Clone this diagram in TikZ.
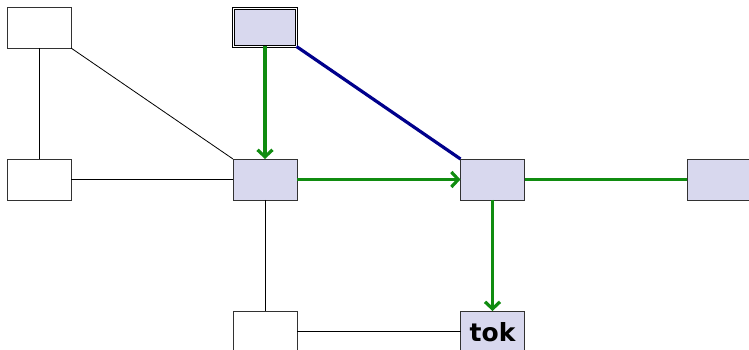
\documentclass[tikz,border=0pt]{standalone}
\usepackage{fontspec}
\newfontfamily\tokfont{DejaVu Sans}
\usetikzlibrary{arrows.meta}
\definecolor{lav}{RGB}{216,216,238}
\definecolor{grn}{RGB}{16,140,16}
\definecolor{nvy}{RGB}{0,0,140}
\definecolor{edge}{RGB}{50,50,50}
\begin{document}
\begin{tikzpicture}[x=1pt,y=1pt,
  box/.style={draw=edge,line width=0.9pt,minimum width=64pt,minimum height=41pt,inner sep=0pt,outer sep=0pt},
  wbox/.style={box,fill=white},
  lbox/.style={box,fill=lav},
  thin/.style={line width=0.8pt,black},
  garrow/.style={line width=3.2pt,grn,-{Straight Barb[length=7pt,width=15pt]}},
  gline/.style={line width=3.2pt,grn},
  bline/.style={line width=3.2pt,nvy}]
\useasboundingbox (0,0) rectangle (749,350);
\node[wbox] (tl) at (39,322.5) {};
\node[lbox,draw=black,line width=0.8pt,double=white,double distance=1.6pt,minimum width=63pt,minimum height=38pt] (top) at (265,322.5) {};
\node[wbox] (ml) at (39,170.5) {};
\node[lbox] (mc) at (265,170.5) {};
\node[lbox] (mr) at (492.5,170.5) {};
\node[lbox] (fr) at (719,170.5) {};
\node[wbox] (bl) at (265,18.5) {};
\node[lbox] (tok) at (492.5,18.5) {};
\node[anchor=base,inner sep=0pt,font=\tokfont\bfseries\fontsize{25}{29}\selectfont] (toktxt) at (492.5,8.5) {tok};
\draw[thin] (tl.south) -- (ml.north);
\draw[thin] (tl.south east) -- (mc.north west);
\draw[thin] (ml.east) -- (mc.west);
\draw[thin] (mc.south) -- (bl.north);
\draw[thin] (bl.east) -- (tok.west);
\draw[bline] (top.south east) -- (mr.north west);
\draw[garrow] (top.south) -- (mc.north);
\draw[garrow] (mc.east) -- (mr.west);
\draw[garrow] (mr.south) -- (tok.north);
\draw[gline] (mr.east) -- (fr.west);
\end{tikzpicture}
\end{document}
